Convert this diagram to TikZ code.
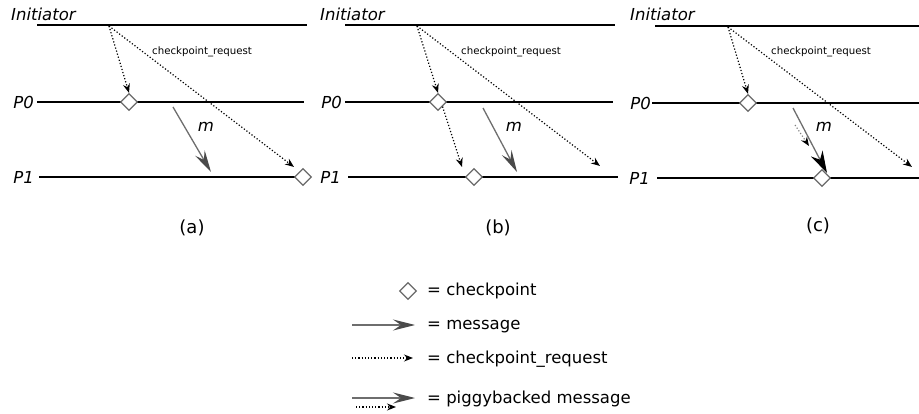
\documentclass[tikz,border=0pt]{standalone}
\usepackage{fontspec}
\setmainfont{DejaVu Sans}
\usetikzlibrary{arrows.meta,shapes.geometric}
\definecolor{msggray}{HTML}{6E6E6E}
\definecolor{headgray}{HTML}{4A4A4A}
\definecolor{ckgray}{HTML}{6A6A6A}
\tikzset{
  proc/.style={line width=1.8pt, black},
  ckpt/.style={shape=diamond, draw=ckgray, fill=white, line width=1.3pt, inner sep=0pt, minimum width=17pt, minimum height=17pt},
  msg/.style={line width=1.3pt, msggray, -{Stealth[length=22pt,width=11pt,inset=8pt,fill=headgray,color=headgray]}},
  msgblack/.style={line width=1.3pt, msggray, -{Stealth[length=22pt,width=13pt,inset=7pt,fill=black,color=black]}},
  req/.style={line width=1.2pt, black, dash pattern=on 1.2pt off 2pt, -{Stealth[length=9pt,width=7pt,inset=3pt]}},
  reqgray/.style={line width=1.2pt, gray, dash pattern=on 1.2pt off 2pt, -{Stealth[length=9pt,width=7pt,inset=3pt,color=black,fill=black]}},
  txt/.style={inner sep=0pt, font=\fontsize{16.5}{19}\selectfont},
  captxt/.style={inner sep=0pt, font=\fontsize{18}{21}\selectfont},
  itxt/.style={txt, font=\fontsize{16.5}{19}\selectfont\itshape},
  small/.style={inner sep=0pt, font=\fontsize{10.2}{12}\selectfont},
}
\begin{document}
\begin{tikzpicture}[x=1pt,y=-1pt]
\useasboundingbox (0,0) rectangle (919,414);

% ---------- panel (a) ----------
\node[itxt, anchor=base west] (inA) at (11,21) {Initiator};
\node[itxt, anchor=east] (p0A) at (34,102) {P0};
\node[itxt, anchor=east] (p1A) at (34,177) {P1};
\coordinate (iAs) at (37,25); \coordinate (iAe) at (307,25);
\coordinate (p0As) at (37,102); \coordinate (p0Ae) at (304,102);
\coordinate (p1As) at (39,177); \coordinate (p1Ae) at (300,177);
\draw[proc] (iAs) -- (iAe);
\draw[proc] (p0As) -- (p0Ae);
\draw[proc] (p1As) -- (p1Ae);
\node[ckpt] (d0A) at (129,102) {};
\node[ckpt] (d1A) at (303,177) {};
\coordinate (rA) at (109,26);
\coordinate (rAe) at (294,167);
\draw[req] (rA) -- (d0A.north);
\draw[req] (rA) -- (rAe);
\coordinate (mAs) at (173,107); \coordinate (mAe) at (211,172);
\draw[msg] (mAs) -- (mAe);
\node[itxt] (mA) at (206,127) {m};
\node[small, anchor=west] (crA) at (152,52) {checkpoint\_request};
\node[captxt] (capA) at (192,228) {(a)};

% ---------- panel (b) ----------
\node[itxt, anchor=base west] (inB) at (320,21) {Initiator};
\node[itxt, anchor=east] (p0B) at (342,102) {P0};
\node[itxt, anchor=east] (p1B) at (341,177) {P1};
\coordinate (iBs) at (345,25); \coordinate (iBe) at (615,25);
\coordinate (p0Bs) at (345,102); \coordinate (p0Be) at (613,102);
\coordinate (p1Bs) at (348,177); \coordinate (p1Be) at (618,177);
\draw[proc] (iBs) -- (iBe);
\draw[proc] (p0Bs) -- (p0Be);
\draw[proc] (p1Bs) -- (p1Be);
\node[ckpt] (d0B) at (438,102) {};
\node[ckpt] (d1B) at (474,177) {};
\coordinate (rB) at (417,26);
\coordinate (rBe) at (600,166);
\coordinate (rB2e) at (462,167);
\draw[req] (rB) -- (d0B.north);
\draw[req] (rB) -- (rBe);
\draw[req] (d0B.south east) -- (rB2e);
\coordinate (mBs) at (483,108); \coordinate (mBe) at (517,172);
\draw[msg] (mBs) -- (mBe);
\node[itxt] (mB) at (514,127) {m};
\node[small, anchor=west] (crB) at (461,52) {checkpoint\_request};
\node[captxt] (capB) at (498,228) {(b)};

% ---------- panel (c) ----------
\node[itxt, anchor=base west] (inC) at (630,21) {Initiator};
\node[itxt, anchor=east] (p0C) at (651,103) {P0};
\node[itxt, anchor=east] (p1C) at (650,178) {P1};
\coordinate (iCs) at (655,26); \coordinate (iCe) at (919,26);
\coordinate (p0Cs) at (652,103); \coordinate (p0Ce) at (919,103);
\coordinate (p1Cs) at (657,178); \coordinate (p1Ce) at (919,178);
\draw[proc] (iCs) -- (iCe);
\draw[proc] (p0Cs) -- (p0Ce);
\draw[proc] (p1Cs) -- (p1Ce);
\node[ckpt] (d0C) at (748,103) {};
\node[ckpt] (d1C) at (822,178) {};
\coordinate (rC) at (728,27);
\coordinate (rCe) at (912,167);
\draw[req] (rC) -- (d0C.north);
\draw[req] (rC) -- (rCe);
\coordinate (mCs) at (793,108); \coordinate (mCe) at (827,173);
\draw[msgblack] (mCs) -- (mCe);
\coordinate (pCs) at (795,125); \coordinate (pCe) at (809,146);
\draw[reqgray] (pCs) -- (pCe);
\node[itxt] (mC) at (824,127) {m};
\node[small, anchor=west] (crC) at (771,52) {checkpoint\_request};
\node[captxt] (capC) at (818,226) {(c)};

% ---------- legend ----------
\node[ckpt] (lgD) at (408,291) {};
\node[txt, anchor=base west] (lgT1) at (427,296) {= checkpoint};
\coordinate (lgMs) at (352,325); \coordinate (lgMe) at (415,325);
\draw[msg] (lgMs) -- (lgMe);
\node[txt, anchor=base west] (lgT2) at (427,330) {= message};
\coordinate (lgRs) at (352,358); \coordinate (lgRe) at (413,358);
\draw[req] (lgRs) -- (lgRe);
\node[txt, anchor=base west] (lgT3) at (427,363) {= checkpoint\_request};
\coordinate (lgPs) at (352,398); \coordinate (lgPe) at (415,398);
\draw[msg] (lgPs) -- (lgPe);
\coordinate (lgQs) at (356,407); \coordinate (lgQe) at (396,407);
\draw[req] (lgQs) -- (lgQe);
\node[txt, anchor=base west] (lgT4) at (427,403) {= piggybacked message};
\end{tikzpicture}
\end{document}
